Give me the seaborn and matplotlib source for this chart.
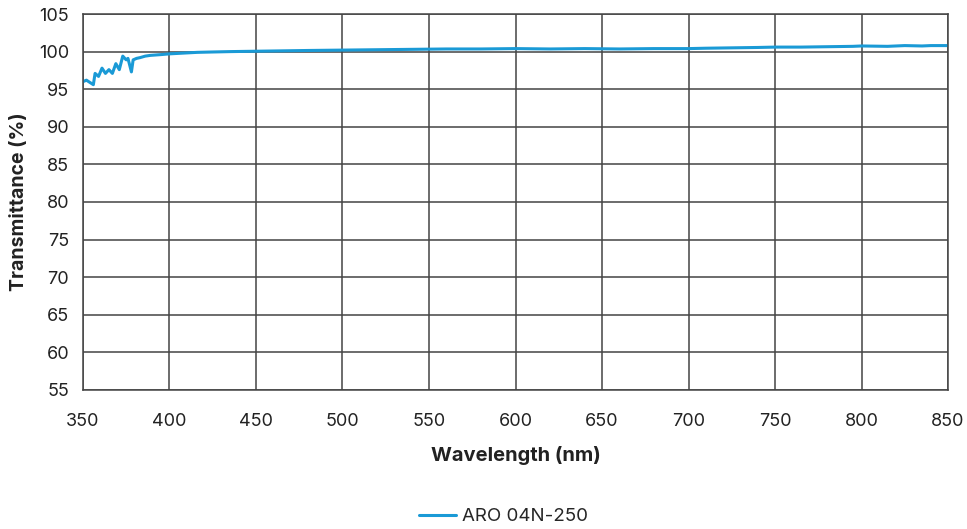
import numpy as np
import pandas as pd
import seaborn as sns
import matplotlib.pyplot as plt

## Data
wavelength = [350, 352, 354, 356, 357, 359, 361, 363, 365, 367, 369, 371, 373, 375, 376, 378, 379, 381, 383,
              386, 389, 395, 400, 408, 416, 425, 435, 450, 465, 480, 500, 520, 540, 560, 580, 600, 620,
              640, 660, 680, 700, 710, 725, 740, 750, 765, 780, 795, 800, 815, 825, 835, 840, 850]
transmittance = [96.0, 96.2, 95.9, 95.6, 97.1, 96.7, 97.8, 97.1, 97.6, 97.1, 98.4, 97.6, 99.4, 98.9, 99.1, 97.3,
                 98.9, 99.1, 99.2, 99.4, 99.5, 99.6, 99.7, 99.8, 99.9, 99.95, 100.0, 100.05, 100.1, 100.15,
                 100.2, 100.25, 100.3, 100.35, 100.35, 100.4, 100.35, 100.4, 100.35, 100.4, 100.4, 100.45,
                 100.5, 100.55, 100.6, 100.6, 100.65, 100.7, 100.75, 100.7, 100.8, 100.75, 100.8, 100.8]
series_name = "ARO 04N-250"
x_ticks = list(range(350, 851, 50))
y_ticks = list(range(55, 106, 5))

df = pd.DataFrame({"Wavelength": wavelength, "Transmittance": transmittance, "Series": series_name})

sns.set_style("white")
plt.rcParams['font.family'] = ['Inter', 'DejaVu Sans']

fig = plt.figure(figsize=(9.67, 5.29), dpi=100)
ax = fig.add_axes([0.0858, 0.263, 0.8946, 0.7105])

sns.lineplot(data=df, x="Wavelength", y="Transmittance", hue="Series", palette=["#1a9ad6"],
             linewidth=2.2, ax=ax, legend=True)

ax.set_xlim(350, 850)
ax.set_ylim(55, 105)
ax.set_xticks(x_ticks)
ax.set_yticks(y_ticks)
ax.tick_params(labelsize=13, colors="#222222", length=0)
ax.tick_params(axis="x", pad=17)
ax.tick_params(axis="y", pad=10)
ax.grid(True, color="#444444", linewidth=1.1)
ax.set_axisbelow(True)
for s in ax.spines.values():
    s.set_color("#444444")
    s.set_linewidth(1.1)
ax.set_xlabel("Wavelength (nm)", fontsize=14.5, fontweight="bold", color="#222222", labelpad=11)
ax.set_ylabel("Transmittance (%)", fontsize=14, fontweight="bold", color="#222222", labelpad=8)

# Legend below the plot
ax.legend(loc="center", bbox_to_anchor=(0.486, -0.338), frameon=False, fontsize=13.5,
          handlelength=2.0, handletextpad=0.3, title=None)

plt.savefig("out.png", dpi=100)
plt.close()
